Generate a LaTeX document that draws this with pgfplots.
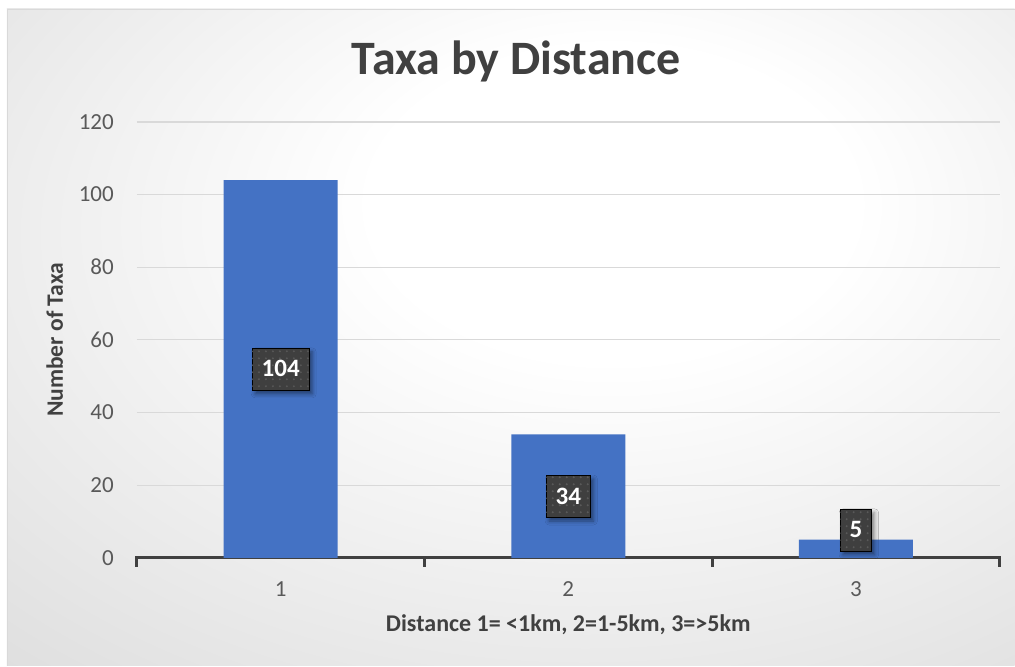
\documentclass[border=0pt]{standalone}
\usepackage{pgfplots}
\pgfplotsset{compat=1.18}
\usepackage{fontspec}
\setmainfont{Carlito}
\usetikzlibrary{patterns.meta,shadows.blur}

\definecolor{barblue}{HTML}{4472C4}
\definecolor{darktxt}{HTML}{404040}
\definecolor{ticktxt}{HTML}{595959}
\definecolor{gridc}{HTML}{D9D9D9}
\definecolor{boxc}{HTML}{3F3F3F}
\definecolor{dotc}{HTML}{595959}
\definecolor{bgmid}{HTML}{D6D6D6}
\definecolor{bgedge}{HTML}{C2C2C2}

% soft radial background of the chart area
\pgfdeclareradialshading{chartbg}{\pgfpoint{6bp}{12bp}}{%
  color(0bp)=(white); color(12bp)=(white);
  color(50bp)=(bgmid); color(71bp)=(bgedge); color(80bp)=(bgedge)}

% x, count, label height
\pgfplotstableread{
x count lpos
1 104 52
2 34  17
3 5   7.7
}\taxadata

\begin{document}
\begin{tikzpicture}
  % page and chart area
  \fill[white] (0bp,0bp) rectangle (1015bp,666bp);
  \shade[shading=chartbg] (7bp,0bp) rectangle (1015bp,657bp);
  \draw[gridc, line width=0.8bp] (7bp,0bp) -- (7bp,657bp) -- (1015bp,657bp);

  \node[anchor=base, font=\fontsize{48bp}{56bp}\selectfont\bfseries, text=darktxt, inner sep=0pt]
    at (516.5bp,591bp) {Taxa by Distance};

  \begin{axis}[
    at={(137bp,108bp)}, anchor=south west,
    scale only axis, width=863bp, height=436bp,
    xmin=0.5, xmax=3.5, ymin=0, ymax=120,
    xtick={1,2,3}, ytick={0,20,...,120},
    minor xtick={0.5,1.5,2.5,3.5},
    tick align=outside,
    major tick length=0pt, minor tick length=9bp,
    minor x tick style={darktxt, line width=3bp},
    axis x line*=bottom, axis y line*=left,
    x axis line style={darktxt, line width=3.2bp, shorten <=-1.5bp, shorten >=-1.5bp},
    y axis line style={draw=none},
    ymajorgrids, grid style={gridc, line width=1.2bp},
    /pgf/number format/assume math mode=true,
    ticklabel style={font=\fontsize{23bp}{27bp}\selectfont, text=ticktxt},
    yticklabel style={anchor=east, inner sep=0pt, xshift=-23bp},
    xticklabel style={anchor=north, inner sep=0pt, yshift=-24bp},
    label style={font=\fontsize{23.5bp}{28bp}\selectfont\bfseries, text=darktxt, inner sep=0pt},
    xlabel={Distance 1= <1km, 2=1-5km, 3=>5km},
    ylabel={Number of Taxa},
    xlabel style={at={(axis description cs:0.5,-0.1697)}, anchor=base,
      font=\fontsize{24bp}{28bp}\selectfont\bfseries},
    ylabel style={at={(axis description cs:-0.0858,0.5)}, anchor=base},
    clip=false,
  ]
    \addplot[ybar, bar width=114bp, fill=barblue, draw=none]
      table[x=x, y=count] {\taxadata};
    \addplot[only marks, mark=none,
      nodes near coords, point meta=explicit,
      every node near coord/.style={anchor=center, inner xsep=9.5bp, inner ysep=13bp,
        text height=16bp, text depth=0bp,
        font=\fontsize{25bp}{30bp}\selectfont\bfseries, text=white,
        blur shadow={shadow xshift=3bp, shadow yshift=-4bp, shadow blur radius=4bp, shadow opacity=45},
        preaction={fill=boxc},
        pattern={Dots[radius=1.1bp, distance=7bp]}, pattern color=dotc}]
      table[x=x, y=lpos, meta=count] {\taxadata};
  \end{axis}
\end{tikzpicture}
\end{document}
